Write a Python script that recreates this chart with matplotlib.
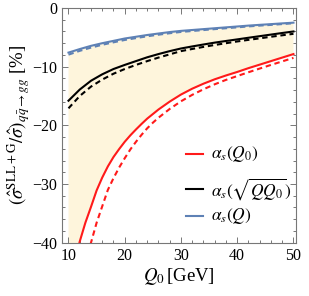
import matplotlib
matplotlib.use("Agg")
import matplotlib.pyplot as plt
import numpy as np

plt.rcParams['font.family'] = ['Liberation Serif', 'DejaVu Serif']
plt.rcParams['mathtext.fontset'] = 'stix'

# Q0 grid for the smooth curves
q0 = [10, 12, 14, 16, 18, 20, 22, 24, 26, 28, 30,
      32, 34, 36, 38, 40, 42, 44, 46, 48, 50]

# alpha_s(Q)
blue_solid = [-7.6, -7.0, -6.45, -6.0, -5.6, -5.2, -4.9, -4.6, -4.35, -4.1, -3.9,
              -3.75, -3.6, -3.45, -3.3, -3.15, -3.0, -2.87, -2.75, -2.62, -2.5]
blue_dash = [-7.95, -7.3, -6.75, -6.27, -5.85, -5.45, -5.13, -4.82, -4.55, -4.3, -4.08,
             -3.92, -3.76, -3.6, -3.45, -3.3, -3.14, -3.0, -2.88, -2.74, -2.6]

# alpha_s(sqrt(Q Q0))
black_solid = [-15.8, -13.9, -12.4, -11.3, -10.4, -9.7, -9.05, -8.4, -7.85, -7.35, -6.9,
               -6.55, -6.22, -5.9, -5.62, -5.35, -5.07, -4.8, -4.53, -4.26, -4.0]
black_dash = [-17.1, -15.0, -13.4, -12.2, -11.2, -10.4, -9.7, -9.05, -8.45, -7.9, -7.35,
              -6.98, -6.63, -6.3, -6.0, -5.7, -5.43, -5.17, -4.9, -4.65, -4.4]

# alpha_s(Q0), steep part needs a finer grid
q0_red = [10, 11, 11.9, 12, 13, 14, 15, 16, 17, 18, 19, 20, 21, 22, 23, 24, 26, 28, 30,
          32, 34, 36, 38, 40, 42, 44, 46, 48, 50]
red_solid = [-48.5, -43.8, -40.2, -39.8, -36.6, -33.9, -31.1, -28.9, -27.0, -25.4, -24.05,
             -22.8, -21.7, -20.7, -19.75, -18.85, -17.3, -15.95, -14.75,
             -13.75, -12.9, -12.15, -11.5, -10.9, -10.25, -9.65, -9.05, -8.45, -7.85]

q0_red_dash = [13.9, 14, 15, 16, 17, 18, 19, 20, 21, 22, 23, 24, 25, 26, 28, 30,
               32, 34, 36, 38, 40, 42, 44, 46, 48, 50]
red_dash = [-40.3, -40.0, -36.6, -33.8, -31.0, -29.0, -27.2, -25.6, -24.1, -22.8, -21.6,
            -20.5, -19.55, -18.7, -17.2, -15.9,
            -14.8, -13.85, -13.0, -12.25, -11.6, -10.95, -10.32, -9.7, -9.1, -8.5]

red = '#ff1a1a'
black = 'black'
blue = '#5e81b5'
fill_col = '#fef5dc'

fig = plt.figure(figsize=(3.09, 2.96), dpi=100)
ax = fig.add_axes([62.3 / 309, 1 - 242.7 / 296, 233.7 / 309, 234.7 / 296])

# band between alpha_s(Q0) and alpha_s(Q)
ax.fill(np.r_[q0, q0_red[::-1]], np.r_[blue_solid, red_solid[::-1]],
        color=fill_col, lw=0, zorder=0)

dash = (0, (2.6, 1.8))
ax.plot(q0_red, red_solid, color=red, lw=1.5)
ax.plot(q0_red_dash, red_dash, color=red, lw=1.5, ls=dash)
ax.plot(q0, black_solid, color=black, lw=1.5)
ax.plot(q0, black_dash, color=black, lw=1.5, ls=dash)
ax.plot(q0, blue_solid, color=blue, lw=1.5)
ax.plot(q0, blue_dash, color=blue, lw=1.5, ls=dash)

ax.set_xlim(8.9, 50.45)
ax.set_ylim(-40, 0)
ax.set_xticks([10, 20, 30, 40, 50])
ax.set_xticks(np.arange(10, 51, 2), minor=True)
ax.set_yticks([-40, -30, -20, -10, 0])
ax.set_yticks(np.arange(-40, 1, 2), minor=True)

for s in ax.spines.values():
    s.set_color('#777777')
    s.set_linewidth(0.8)
ax.tick_params(which='both', direction='in', top=True, right=True,
               color='#777777', labelsize=11.5, width=0.7)
ax.tick_params(which='major', length=4)
ax.tick_params(which='minor', length=2)
ax.set_yticklabels(['\u221240', '\u221230', '\u221220', '\u221210', '0'])

ax.set_xlabel(r'$Q_0\,$[GeV]', fontsize=13.5, labelpad=2)
ax.set_ylabel(r'$\left(\hat{\sigma}^{\mathrm{SLL+G}}/\hat{\sigma}\right)_{q\bar{q}\to gg}$ [%]',
              fontsize=13.5, labelpad=0)

# legend drawn by hand (row heights differ in the original)
leg = [(r'$\alpha_s(Q_0)$', red, 154),
       (r'$\alpha_s(\sqrt{QQ_0})$', black, 189),
       (r'$\alpha_s(Q)$', blue, 216)]
x0, y0, w, h = 62.3, 8.0, 233.7, 234.7
for lab, col, py in leg:
    yy = 1 - (py - y0) / h
    ax.plot([(186 - x0) / w, (203 - x0) / w], [yy, yy], color=col, lw=1.5,
            transform=ax.transAxes)
    ax.text((211 - x0) / w, yy, lab, transform=ax.transAxes, fontsize=12.5,
            va='center', ha='left')

fig.savefig('out.png', dpi=100)
